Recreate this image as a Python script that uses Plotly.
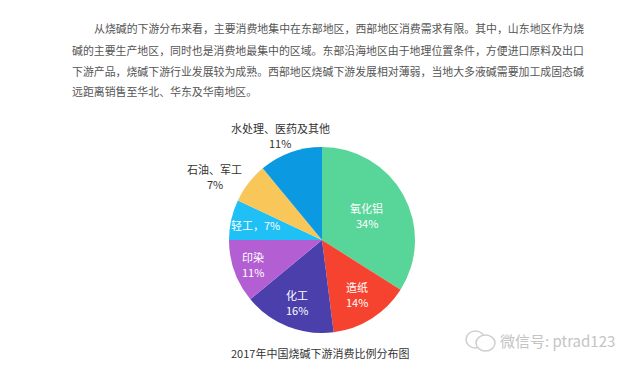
import math
import plotly.graph_objects as go

# ---- data ----
categories = ["氧化铝", "造纸", "化工", "印染", "轻工", "石油、军工", "水处理、医药及其他"]
shares = [34, 14, 16, 11, 7, 7, 11]
label_lines = [["氧化铝", "34%"], ["造纸", "14%"], ["化工", "16%"], ["印染", "11%"],
               ["轻工，7%"], ["石油、军工", "7%"], ["水处理、医药及其他", "11%"]]
colors = ["#58d69a", "#f5432f", "#4a3fab", "#b35ed3", "#1ec0f5", "#f9c65a", "#0b9ae2"]

paragraph = [
    "从烧碱的下游分布来看，主要消费地集中在东部地区，西部地区消费需求有限。其中，山东地区作为烧",
    "碱的主要生产地区，同时也是消费地最集中的区域。东部沿海地区由于地理位置条件，方便进口原料及出口",
    "下游产品，烧碱下游行业发展较为成熟。西部地区烧碱下游发展相对薄弱，当地大多液碱需要加工成固态碱",
    "远距离销售至华北、华东及华南地区。",
]
title_text = "2017年中国烧碱下游消费比例分布图"
watermark = "微信号: ptrad123"

# ---- layout config ----
W, H = 640, 369
CX, CY, R = 322, 240, 93
label_radius = [0.55, 0.70, 0.72, 0.79, 0.73, 1.34, 1.20]
label_shift = [(0, 0), (0, 0), (0, 0), (0, 0), (0, 0), (-9, 13), (-4, 1)]
label_color = ["white"] * 5 + ["#333333"] * 2
LINE_GAP = 15
font = "Noto Sans CJK SC"

fig = go.Figure(go.Pie(
    labels=categories, values=shares, sort=False, direction="clockwise",
    rotation=0, marker=dict(colors=colors, line=dict(width=0)),
    textinfo="none", hoverinfo="label+percent", showlegend=False,
    domain=dict(x=[(CX - R) / W, (CX + R) / W],
                y=[(H - CY - R) / H, (H - CY + R) / H]),
))

ann = []
total = sum(shares)
cum = 0
for i, v in enumerate(shares):
    mid = (cum + v / 2) / total * 2 * math.pi
    cum += v
    px = CX + label_radius[i] * R * math.sin(mid) + label_shift[i][0]
    py = CY - label_radius[i] * R * math.cos(mid) + label_shift[i][1]
    lines = label_lines[i]
    n = len(lines)
    for k, t in enumerate(lines):
        ly = py + (k - (n - 1) / 2) * LINE_GAP
        ann.append(dict(x=px / W, y=1 - ly / H, xref="paper", yref="paper",
                        text=t, showarrow=False,
                        font=dict(family=font, size=11, color=label_color[i]),
                        xanchor="center", yanchor="middle"))

line_y = [28, 50, 71, 91]
line_x = [92, 70, 70, 70]
for t, yy, xx in zip(paragraph, line_y, line_x):
    ann.append(dict(x=xx / W, y=1 - yy / H, xref="paper", yref="paper", text=t,
                    showarrow=False, xanchor="left", yanchor="middle",
                    font=dict(family=font, size=10.9, color="#555555")))

ann.append(dict(x=320 / W, y=1 - 353 / H, xref="paper", yref="paper", text=title_text,
                showarrow=False, xanchor="center", yanchor="middle",
                font=dict(family=font, size=11, color="#333333")))
ann.append(dict(x=498 / W, y=1 - 340 / H, xref="paper", yref="paper", text=watermark,
                showarrow=False, xanchor="left", yanchor="middle",
                font=dict(family=font, size=15, color="#c4c4c4")))

shapes = [
    dict(type="circle", xref="paper", yref="paper",
         x0=466 / W, x1=485 / W, y0=1 - 348 / H, y1=1 - 331 / H,
         line=dict(color="#cfcfcf", width=1.5)),
    dict(type="circle", xref="paper", yref="paper",
         x0=476 / W, x1=495 / W, y0=1 - 351 / H, y1=1 - 335 / H,
         line=dict(color="#cfcfcf", width=1.5), fillcolor="white"),
]

fig.update_layout(width=W, height=H, margin=dict(l=0, r=0, t=0, b=0),
                  paper_bgcolor="white", plot_bgcolor="white",
                  annotations=ann, shapes=shapes)
fig.write_html("out.html")
